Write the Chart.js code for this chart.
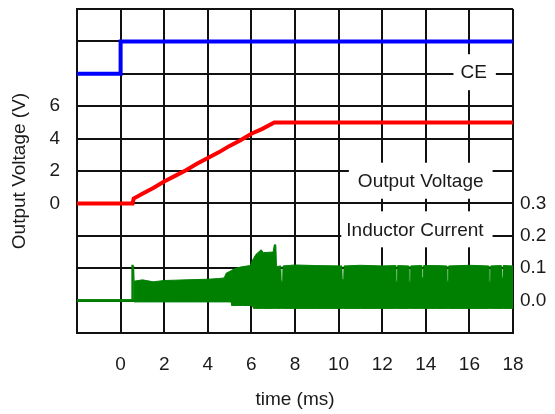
<!DOCTYPE html>
<html>
<head>
<meta charset="utf-8">
<script src="https://cdn.jsdelivr.net/npm/chart.js@4/dist/chart.umd.min.js"></script>
<style>
  body { margin: 0; background: #fff; }
  canvas { display: block; }
</style>
</head>
<body>
<canvas id="chart" width="555" height="414"></canvas>
<script>
// CE (left axis units)
const ceTime = [-2, 0, 0, 18];
const ceValue = [8, 8, 10, 10];

// output voltage (V, left axis)
const voutTime = [-2, 0.55, 0.6, 1, 1.5, 2, 2.5, 3, 3.5, 4, 4.5, 5, 5.5, 6, 6.5, 7.05, 18];
const voutValue = [0, 0, 0.3, 0.6, 0.95, 1.35, 1.7, 2.05, 2.45, 2.8, 3.15, 3.55, 3.9, 4.3, 4.6, 5, 5];

// inductor current envelope (A, right axis)
const ilTime = [
  -2, 0.53, 0.55, 0.6, 0.62, 1.0, 1.5, 2.0, 2.5, 3.0, 3.5, 4.0, 4.5, 4.75, 4.85,
  5.0, 5.08, 5.1, 5.3, 5.6, 5.95, 6.05, 6.1, 6.2, 6.45, 6.55, 7.0, 7.05, 7.12, 7.15,
  7.35, 7.365, 7.435, 7.45, 8.0, 9.0, 10.15, 10.165, 10.235, 10.25, 11.0, 12.0,
  12.61, 12.625, 12.695, 12.71, 13.21, 13.225, 13.295, 13.31, 13.8, 13.815, 13.885, 13.9,
  14.5, 14.95, 14.965, 15.035, 15.05, 16.0, 16.88, 16.895, 16.965, 16.98, 17.45, 17.465, 17.535, 17.55, 18];
const ilUpper = [
  0, 0, 0.107, 0.107, 0.06, 0.064, 0.058, 0.062, 0.063, 0.064, 0.065, 0.066, 0.068, 0.07, 0.085,
  0.09, 0.093, 0.094, 0.1, 0.105, 0.108, 0.125, 0.13, 0.142, 0.157, 0.148, 0.15, 0.172, 0.172, 0.105,
  0.107, 0.06, 0.06, 0.107, 0.11, 0.108, 0.107, 0.065, 0.065, 0.107, 0.109, 0.107,
  0.108, 0.06, 0.06, 0.108, 0.107, 0.06, 0.06, 0.107, 0.108, 0.07, 0.07, 0.108,
  0.108, 0.107, 0.06, 0.06, 0.107, 0.109, 0.107, 0.06, 0.06, 0.107, 0.108, 0.07, 0.07, 0.108, 0.107];
const ilLower = [
  0, 0, 0, 0, -0.004, -0.004, -0.004, -0.004, -0.004, -0.004, -0.004, -0.004, -0.004, -0.004, -0.004,
  -0.004, -0.005, -0.015, -0.015, -0.015, -0.015, -0.017, -0.024, -0.024, -0.024, -0.024, -0.024, -0.024, -0.024, -0.024,
  -0.024, -0.024, -0.024, -0.024, -0.024, -0.024, -0.024, -0.024, -0.024, -0.024, -0.024, -0.024,
  -0.024, -0.024, -0.024, -0.024, -0.024, -0.024, -0.024, -0.024, -0.024, -0.024, -0.024, -0.024,
  -0.024, -0.024, -0.024, -0.024, -0.024, -0.024, -0.024, -0.024, -0.024, -0.024, -0.024, -0.024, -0.024, -0.024, -0.024];

// tick labels that are shown
const timeTicks = [0, 2, 4, 6, 8, 10, 12, 14, 16, 18];
const voltTicks = [0, 2, 4, 6];
const currentTicks = ['0.0', '0.1', '0.2', '0.3'];

const FONT = "'Liberation Sans', Arial, sans-serif";
const TEXT = '#1a1a1a';
const GREEN = '#008000';

function pts(xs, ys) {
  return xs.map((x, i) => ({ x: x, y: ys[i] }));
}

// trace labels with a white box that breaks the grid
const labels = [
  { text: 'CE', x: 16.8, y: 8.1, axis: 'y', padL: 7, padR: 9 },
  { text: 'Output Voltage', x: 16.65, y: 1.4, axis: 'y', padL: 9, padR: 9 },
  { text: 'Inductor Current', x: 16.65, y: 0.22, axis: 'y1', padL: 5, padR: 9 }
];

const labelPlugin = {
  id: 'traceLabels',
  beforeDatasetsDraw(chart) {
    const c = chart.ctx;
    const xs = chart.scales.x;
    c.save();
    c.font = '19px ' + FONT;
    c.textBaseline = 'middle';
    c.textAlign = 'right';
    labels.forEach(l => {
      const px = xs.getPixelForValue(l.x);
      const py = chart.scales[l.axis].getPixelForValue(l.y);
      const w = c.measureText(l.text).width;
      c.fillStyle = '#fff';
      c.fillRect(px - w - l.padL, py - 18, w + l.padL + l.padR, 36);
      c.fillStyle = TEXT;
      c.fillText(l.text, px, py + 1);
    });
    c.restore();
  }
};

function noVPad(s) {
  s.paddingTop = 0;
  s.paddingBottom = 0;
}

// thick trace before switching starts, thin edges on the band
const bandWidth = { borderWidth: c => c.p1.parsed.x <= 0.6 ? 2.5 : 1 };

const ctx = document.getElementById('chart').getContext('2d');
new Chart(ctx, {
  type: 'line',
  data: {
    datasets: [
      { label: 'CE', data: pts(ceTime, ceValue), yAxisID: 'y', borderColor: '#0000ff', borderWidth: 4 },
      { label: 'Output Voltage', data: pts(voutTime, voutValue), yAxisID: 'y', borderColor: '#ff0000', borderWidth: 4 },
      { label: 'Inductor Current', data: pts(ilTime, ilUpper), yAxisID: 'y1', borderColor: GREEN, borderWidth: 1,
        segment: bandWidth },
      { label: 'Inductor Current low', data: pts(ilTime, ilLower), yAxisID: 'y1', borderColor: GREEN, borderWidth: 1,
        segment: bandWidth, fill: '-1', backgroundColor: GREEN }
    ]
  },
  options: {
    responsive: false,
    animation: false,
    devicePixelRatio: 1,
    layout: { padding: { top: 9, left: 0, right: 0, bottom: 0 } },
    elements: { point: { radius: 0 }, line: { tension: 0 } },
    plugins: {
      legend: { display: false },
      tooltip: { enabled: false }
    },
    scales: {
      x: {
        type: 'linear',
        min: -2,
        max: 18,
        afterFit: s => { s.height = 81; s.paddingLeft = 0; s.paddingRight = 0; },
        grid: { color: '#111', lineWidth: 2, drawTicks: false },
        border: { color: '#111', width: 2 },
        ticks: {
          stepSize: 2,
          padding: 20,
          color: TEXT,
          font: { family: FONT, size: 19 },
          callback: v => timeTicks.includes(v) ? String(v) : ''
        },
        title: {
          display: true,
          text: 'time (ms)',
          color: TEXT,
          font: { family: FONT, size: 19 },
          padding: { top: 4, bottom: 3 }
        }
      },
      y: {
        position: 'left',
        min: -8,
        max: 12,
        afterFit: s => { s.width = 77; noVPad(s); },
        grid: { color: '#111', lineWidth: 2, drawTicks: false },
        border: { color: '#111', width: 2 },
        ticks: {
          stepSize: 2,
          padding: 17,
          color: TEXT,
          font: { family: FONT, size: 19 },
          callback: v => voltTicks.includes(v) ? String(v) : ''
        },
        title: {
          display: true,
          text: 'Output Voltage (V)',
          color: TEXT,
          font: { family: FONT, size: 19 },
          padding: { top: 8, bottom: 4 }
        }
      },
      y1: {
        position: 'right',
        min: -0.1,
        max: 0.9,
        afterFit: s => { s.width = 42; noVPad(s); },
        grid: { display: false, drawTicks: false },
        border: { display: false },
        ticks: {
          stepSize: 0.1,
          padding: 7,
          color: TEXT,
          font: { family: FONT, size: 19 },
          callback: v => {
            const t = v.toFixed(1);
            return currentTicks.includes(t) ? t : '';
          }
        }
      }
    }
  },
  plugins: [labelPlugin]
});
</script>
</body>
</html>
